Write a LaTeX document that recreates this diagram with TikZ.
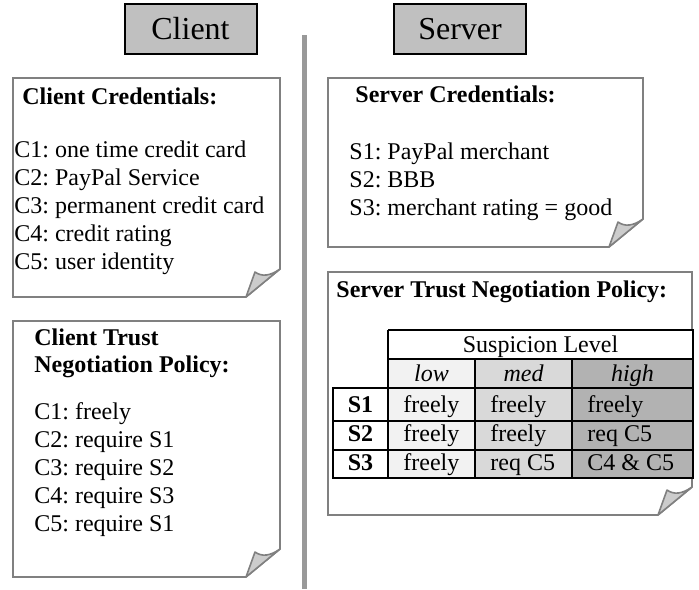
\documentclass[tikz,border=0pt]{standalone}
\usepackage{fontspec}
\setmainfont{Liberation Serif}
\frenchspacing

\definecolor{headGray}{RGB}{192,192,192}
\definecolor{barGray}{RGB}{153,153,153}
\definecolor{noteGray}{RGB}{128,128,128}
\definecolor{foldGray}{RGB}{204,204,204}
\definecolor{lowCol}{RGB}{242,242,242}
\definecolor{medCol}{RGB}{217,217,217}
\definecolor{highCol}{RGB}{178,178,178}

\tikzset{%
  head box/.style={
    draw=black, line width=1pt, fill=headGray,
    minimum width=66pt, minimum height=25pt,
    font=\fontsize{16}{19}\selectfont
  },
  note sheet/.style={draw=noteGray, line width=0.8pt, fill=white},
  note fold/.style={draw=noteGray, line width=0.8pt, fill=foldGray, line join=round},
  note title/.style={anchor=base west, inner sep=0pt, font=\fontsize{12}{14}\selectfont\bfseries},
  note line/.style={anchor=base west, inner sep=0pt, font=\fontsize{12}{14}\selectfont},
  cell text/.style={anchor=base west, inner sep=0pt, font=\fontsize{12}{14}\selectfont},
  col head/.style={anchor=base, inner sep=0pt, font=\fontsize{12}{14}\selectfont\itshape},
  row head/.style={anchor=base, inner sep=0pt, font=\fontsize{12}{14}\selectfont\bfseries},
  table line/.style={draw=black, line width=0.8pt},
  table frame/.style={draw=black, line width=1.2pt, line join=miter},
}

% sheet with a folded corner: left, top, right, bottom
\newcommand{\notesheet}[4]{%
  \draw[note sheet] (#1,#2) -- (#3,#2) -- (#3,#4-28) -- (#3-34,#4) -- (#1,#4) -- cycle;
  \draw[note fold] (#3-34,#4) -- (#3-25,#4-25)
    .. controls (#3-18,#4-20) and (#3-10,#4-21) .. (#3,#4-28) -- cycle;
}

\begin{document}
\begin{tikzpicture}[x=0.5pt, y=-0.5pt]
\useasboundingbox (0,0) rectangle (699,589);
%=========================================================================================================
% Headers and divider
%=========================================================================================================
\node[head box] (client) at (190.5,29) {Client};
\node[head box] (server) at (460,29) {Server};

\fill[barGray] (302,35) rectangle (307,589);

%=========================================================================================================
% Client side
%=========================================================================================================

%Credentials sheet
\notesheet{13}{78}{280}{297}
\node[note title] (ccred-title) at (22,104) {Client Credentials:};
\foreach \l [count=\i] in {C1: one time credit card, C2: PayPal Service, C3: permanent credit card, C4: credit rating, C5: user identity}
  \node[note line] (ccred-\i) at (14,129+28*\i) {\l};

%Policy sheet
\notesheet{13}{321}{280}{577}
\node[note title] (cpol-title1) at (34,345) {Client Trust};
\node[note title] (cpol-title2) at (34,372) {Negotiation Policy:};
\foreach \l [count=\i] in {C1: freely, C2: require S1, C3: require S2, C4: require S3, C5: require S1}
  \node[note line] (cpol-\i) at (34,391+28*\i) {\l};

%=========================================================================================================
% Server side
%=========================================================================================================

%Credentials sheet
\notesheet{328}{78}{643}{247}
\node[note title] (scred-title) at (355,102) {Server Credentials:};
\foreach \l [count=\i] in {S1: PayPal merchant, S2: BBB, S3: merchant rating = good}
  \node[note line] (scred-\i) at (349,131+28*\i) {\l};

%Policy sheet
\notesheet{328}{272}{692}{515}
\node[note title] (spol-title) at (336,297) {Server Trust Negotiation Policy:};

%Table fills
\fill[white]   (388,330) rectangle (693,359);
\fill[white]   (333,388) rectangle (388,478);
\fill[lowCol]  (388,359) rectangle (475,478);
\fill[medCol]  (475,359) rectangle (572,478);
\fill[highCol] (572,359) rectangle (693,478);

%Table grid
\draw[table line] (388,359) -- (693,359);
\foreach \y in {388,421,450}
  \draw[table line] (333,\y) -- (693,\y);
\foreach \x in {475,572}
  \draw[table line] (\x,359) -- (\x,478);
\draw[table frame] (388,330) -- (388,478);
\draw[table frame] (388,330) -- (693,330) -- (693,478) -- (333,478) -- (333,388) -- (388,388);

%Table headers
\node[anchor=base, inner sep=0pt, font=\fontsize{12}{14}\selectfont] (level) at (540.5,352) {Suspicion Level};
\foreach \l/\x in {low/431.5, med/523.5, high/632.5}
  \node[col head] (col-\l) at (\x,381) {\l};

%Table rows
\foreach \r/\y/\a/\b/\c in {1/412/freely/freely/freely, 2/441/freely/freely/req C5, 3/470/freely/req C5/C4 \& C5}
{
  \node[row head] (row-\r) at (360.5,\y) {S\r};
  \node[cell text] (cell-\r-1) at (403,\y) {\a};
  \node[cell text] (cell-\r-2) at (490,\y) {\b};
  \node[cell text] (cell-\r-3) at (587,\y) {\c};
}

\end{tikzpicture}
\end{document}
